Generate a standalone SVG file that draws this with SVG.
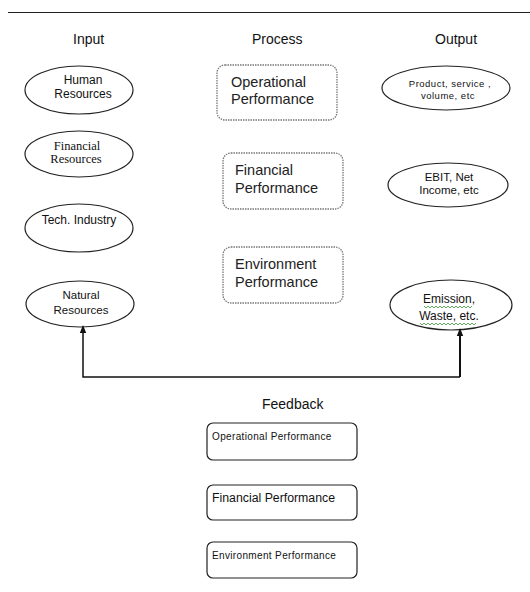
<svg xmlns="http://www.w3.org/2000/svg" width="530" height="592" viewBox="0 0 530 592">
  <style>
    .hd { font-family: "Liberation Sans", Arial, sans-serif; font-size: 14px; fill: #111; }
    .ell { fill: #fff; stroke: #222; stroke-width: 1.2; }
    .lbl { font-family: "Liberation Sans", Arial, sans-serif; font-size: 11.5px; fill: #111; text-anchor: middle; }
    .lg { font-size: 12px; }
    .ser { font-family: "Liberation Serif", "Times New Roman", serif; font-size: 12.5px; fill: #111; text-anchor: middle; }
    .sm { font-family: "Liberation Sans", Arial, sans-serif; font-size: 9.5px; fill: #111; text-anchor: middle; letter-spacing: 0.5px; }
    .proc { fill: #fff; stroke: #777; stroke-width: 1.3; stroke-dasharray: 1.5 1; }
    .ptx { font-family: "Liberation Sans", Arial, sans-serif; font-size: 14.5px; fill: #222; }
    .fb { fill: #fff; stroke: #222; stroke-width: 1.2; }
    .ftx { font-family: "Liberation Sans", Arial, sans-serif; font-size: 10px; fill: #111; letter-spacing: 0.35px; }
    .ftx-lg { font-family: "Liberation Sans", Arial, sans-serif; font-size: 12.3px; fill: #111; }
    .conn { fill: none; stroke: #111; stroke-width: 1.5; }
    .conn-r { fill: none; stroke: #111; stroke-width: 2; }
    .squig { fill: none; stroke: #3a9a3a; stroke-width: 0.8; }
  </style>
  <defs>
    <marker id="arrow" markerWidth="8" markerHeight="8" refX="4" refY="4" orient="auto" markerUnits="userSpaceOnUse">
      <path d="M0,0.8 L8,4 L0,7.2 Z" fill="#111"/>
    </marker>
  </defs>

  <!-- top rule -->
  <line x1="8" y1="12.5" x2="530" y2="12.5" stroke="#222" stroke-width="1.2"/>

  <!-- column headings -->
  <text class="hd" x="73" y="44">Input</text>
  <text class="hd" x="252" y="44">Process</text>
  <text class="hd" x="435" y="44">Output</text>

  <!-- input nodes -->
  <g id="human-resources">
    <ellipse class="ell" cx="79" cy="90" rx="54" ry="24"/>
    <text class="lbl lg" x="83" y="84">Human</text>
    <text class="lbl lg" x="83" y="98">Resources</text>
  </g>
  <g id="financial-resources">
    <ellipse class="ell" cx="79" cy="154" rx="54" ry="23"/>
    <text class="ser" x="77" y="150">Financial</text>
    <text class="ser" x="76" y="163">Resources</text>
  </g>
  <g id="tech-industry">
    <ellipse class="ell" cx="79" cy="228" rx="54" ry="24"/>
    <text class="lbl lg" x="79" y="224">Tech. Industry</text>
  </g>
  <g id="natural-resources">
    <ellipse class="ell" cx="80" cy="304" rx="54" ry="23"/>
    <text class="lbl" x="81" y="299">Natural</text>
    <text class="lbl" x="81" y="314">Resources</text>
  </g>

  <!-- process nodes -->
  <g id="operational-performance">
    <rect class="proc" x="217" y="65" width="120" height="55" rx="8"/>
    <text class="ptx" x="231" y="87">Operational</text>
    <text class="ptx" x="231" y="104">Performance</text>
  </g>
  <g id="financial-performance">
    <rect class="proc" x="223" y="153" width="120" height="56" rx="8"/>
    <text class="ptx" x="235" y="175">Financial</text>
    <text class="ptx" x="235" y="193">Performance</text>
  </g>
  <g id="environment-performance">
    <rect class="proc" x="223" y="247" width="120" height="56" rx="8"/>
    <text class="ptx" x="235" y="269">Environment</text>
    <text class="ptx" x="235" y="287">Performance</text>
  </g>

  <!-- output nodes -->
  <g id="product-service">
    <ellipse class="ell" cx="446" cy="88" rx="64" ry="22"/>
    <text class="sm" x="450" y="87">Product, service ,</text>
    <text class="sm" x="448" y="99">volume, etc</text>
  </g>
  <g id="ebit-net-income">
    <ellipse class="ell" cx="448" cy="185" rx="60" ry="22"/>
    <text class="lbl" x="449" y="181">EBIT, Net</text>
    <text class="lbl" x="449" y="194">Income, etc</text>
  </g>
  <g id="emission-waste">
    <ellipse class="ell" cx="451" cy="305" rx="61" ry="25"/>
    <text class="lbl lg" x="449" y="303">Emission,</text>
    <text class="lbl lg" x="449" y="320">Waste, etc.</text>
    <path class="squig" d="M424,306 l2,2 l2,-2 l2,2 l2,-2 l2,2 l2,-2 l2,2 l2,-2 l2,2 l2,-2 l2,2 l2,-2 l2,2 l2,-2 l2,2 l2,-2 l2,2 l2,-2 l2,2 l2,-2 l2,2 l2,-2 l2,2 l2,-2"/>
    <path class="squig" d="M420,323 l2,2 l2,-2 l2,2 l2,-2 l2,2 l2,-2 l2,2 l2,-2 l2,2 l2,-2 l2,2 l2,-2 l2,2 l2,-2 l2,2 l2,-2 l2,2 l2,-2 l2,2 l2,-2 l2,2 l2,-2 l2,2 l2,-2 l2,2 l2,-2 l2,2 l2,-2"/>
  </g>

  <!-- feedback loop connectors -->
  <g id="connectors">
    <path class="conn" d="M460,377 L83,377 L83,329" marker-end="url(#arrow)"/>
    <path class="conn-r" d="M460,377 L460,332" marker-end="url(#arrow)"/>
  </g>

  <!-- feedback section -->
  <text class="hd" x="262" y="409">Feedback</text>
  <g id="feedback-operational">
    <rect class="fb" x="207" y="423" width="150" height="37" rx="6"/>
    <text class="ftx" x="212" y="440">Operational Performance</text>
  </g>
  <g id="feedback-financial">
    <rect class="fb" x="207" y="485" width="150" height="35" rx="6"/>
    <text class="ftx-lg" x="212" y="502">Financial Performance</text>
  </g>
  <g id="feedback-environment">
    <rect class="fb" x="207" y="542" width="150" height="36" rx="6"/>
    <text class="ftx" x="212" y="559">Environment Performance</text>
  </g>
</svg>
